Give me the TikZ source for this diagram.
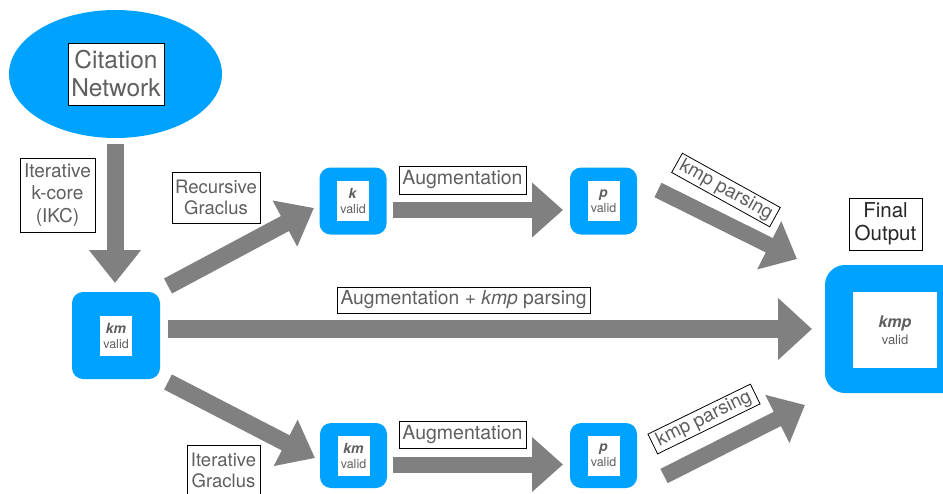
\documentclass[tikz,border=0pt]{standalone}
\usepackage{fontspec}
\setmainfont{TeX Gyre Heros}
\usetikzlibrary{arrows.meta,shapes.geometric}
\definecolor{kblue}{RGB}{0,162,255}
\definecolor{kgray}{RGB}{128,128,128}
\definecolor{ktext}{RGB}{95,95,95}
\begin{document}
\begin{tikzpicture}[x=1pt,y=-1pt,
  lbl/.style={draw=black, line width=0.8pt, fill=white, text=ktext, align=center, inner sep=0.5pt},
  bluebox/.style={fill=kblue, rounded corners=11pt, minimum width=67pt, minimum height=67pt, inner sep=0pt},
  innerbox/.style={fill=white, text=ktext, align=center, inner sep=0pt, minimum width=32pt, minimum height=40pt, font=\fontsize{12.5}{15}\selectfont},
  fat/.style={draw=kgray, line width=17pt, -{Triangle[length=33pt,width=50pt]}},
]
\useasboundingbox (0,0) rectangle (943,493);

% source
\node[ellipse, fill=kblue, minimum width=213pt, minimum height=128pt, inner sep=0pt] (net) at (115.5,74) {};
\node[lbl, minimum width=96pt, minimum height=62pt, font=\fontsize{24.5}{28}\selectfont] (netl) at (116,74) {Citation\\Network};

% blue boxes
\node[bluebox, minimum width=88pt, minimum height=87pt] (km) at (116,335.5) {};
\node[innerbox] (kmi) at (km) {{\fontsize{14}{15}\selectfont\textbf{\textit{km}}}\\valid};

\node[bluebox] (k) at (353,201) {};
\node[innerbox] (ki) at (k) {{\fontsize{14}{15}\selectfont\textbf{\textit{k}}}\\valid};
\node[bluebox] (p1) at (603.5,201) {};
\node[innerbox] (p1i) at (p1) {{\fontsize{14}{15}\selectfont\textbf{\textit{p}}}\\valid};

\node[bluebox, minimum height=65pt] (km2) at (353.5,455.5) {};
\node[innerbox] (km2i) at (km2) {{\fontsize{14}{15}\selectfont\textbf{\textit{km}}}\\valid};
\node[bluebox, minimum height=65pt] (p2) at (603.5,455.5) {};
\node[innerbox] (p2i) at (p2) {{\fontsize{14}{15}\selectfont\textbf{\textit{p}}}\\valid};

\node[bluebox, rounded corners=20pt, minimum width=140pt, minimum height=128pt] (fin) at (895,329) {};
\node[innerbox, minimum width=84pt, minimum height=76pt, font=\fontsize{13}{17}\selectfont] (fini) at (895,330) {{\fontsize{16}{17}\selectfont\textbf{\textit{kmp}}}\\valid};

% arrows
\coordinate (a1s) at (115,144); \coordinate (a1e) at (115,283);
\draw[fat] (a1s) -- (a1e);
\coordinate (a2s) at (168,286); \coordinate (a2e) at (314,208);
\draw[fat] (a2s) -- (a2e);
\coordinate (a3s) at (168,382); \coordinate (a3e) at (315,458);
\draw[fat] (a3s) -- (a3e);
\coordinate (a4s) at (168,329); \coordinate (a4e) at (812,329);
\draw[fat, line width=18pt, -{Triangle[length=34pt,width=60pt]}] (a4s) -- (a4e);
\coordinate (a5s) at (393,210); \coordinate (a5e) at (563,210);
\draw[fat, line width=16pt, -{Triangle[length=31pt,width=53pt]}] (a5s) -- (a5e);
\coordinate (a6s) at (393,464.5); \coordinate (a6e) at (563,464.5);
\draw[fat, line width=16pt, -{Triangle[length=31pt,width=53pt]}] (a6s) -- (a6e);
\coordinate (a7s) at (658,190); \coordinate (a7e) at (797,259);
\draw[fat, line width=16pt, -{Triangle[length=31pt,width=52pt]}] (a7s) -- (a7e);
\coordinate (a8s) at (664,476); \coordinate (a8e) at (805,405);
\draw[fat, line width=16pt, -{Triangle[length=31pt,width=52pt]}] (a8s) -- (a8e);

% labels
\node[lbl, minimum width=75pt, minimum height=74pt, font=\fontsize{19}{22.5}\selectfont] (ikc) at (57.5,195) {Iterative\\k-core\\(IKC)};
\node[lbl, minimum width=88pt, minimum height=51pt, font=\fontsize{18.5}{21.5}\selectfont] (rg) at (216,197.5) {Recursive\\Graclus};
\node[lbl, minimum width=73pt, minimum height=51pt, font=\fontsize{18.5}{21.5}\selectfont] (ig) at (223.5,470.5) {Iterative\\Graclus};
\node[lbl, minimum width=127pt, minimum height=28pt, font=\fontsize{19.5}{20}\selectfont] (aug1) at (462.5,180) {Augmentation};
\node[lbl, minimum width=127pt, minimum height=27pt, font=\fontsize{19.5}{20}\selectfont] (aug2) at (462.5,434.5) {Augmentation};
\node[lbl, minimum width=253pt, minimum height=26pt, font=\fontsize{19.3}{20}\selectfont] (augk) at (463.5,300) {Augmentation + \textit{kmp} parsing};
\node[lbl, text=black!85, minimum width=73pt, minimum height=52pt, font=\fontsize{20.5}{23.5}\selectfont] (fo) at (885.5,224) {Final\\Output};
\node[lbl, rotate=-29, minimum width=112pt, minimum height=22pt, font=\fontsize{19}{20}\selectfont] (kp1) at (726,190) {kmp parsing};
\node[lbl, rotate=26, minimum width=114pt, minimum height=22pt, font=\fontsize{19}{20}\selectfont] (kp2) at (704,419) {kmp parsing};
\end{tikzpicture}
\end{document}
